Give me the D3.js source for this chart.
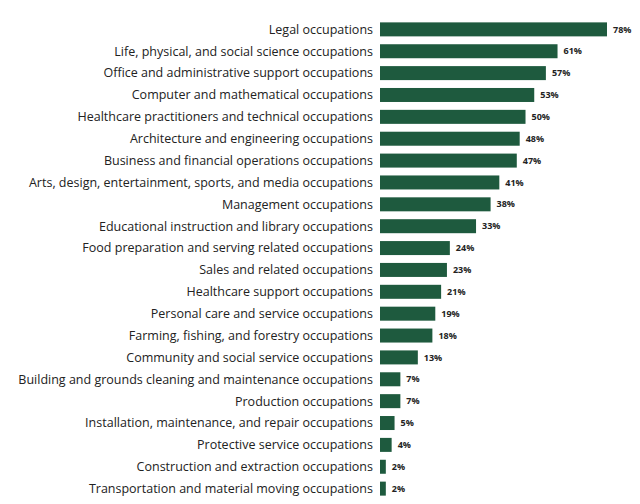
<!DOCTYPE html>
<html lang="en">
<head>
  <meta charset="UTF-8">
  <style>
    body { margin: 0; background: #fff; }
  </style>
</head>
<body>
  <div id="container"></div>
  <script src="https://cdn.jsdelivr.net/npm/d3@7"></script>
  <script>
    const categories = [
      'Legal occupations',
      'Life, physical, and social science occupations',
      'Office and administrative support occupations',
      'Computer and mathematical occupations',
      'Healthcare practitioners and technical occupations',
      'Architecture and engineering occupations',
      'Business and financial operations occupations',
      'Arts, design, entertainment, sports, and media occupations',
      'Management occupations',
      'Educational instruction and library occupations',
      'Food preparation and serving related occupations',
      'Sales and related occupations',
      'Healthcare support occupations',
      'Personal care and service occupations',
      'Farming, fishing, and forestry occupations',
      'Community and social service occupations',
      'Building and grounds cleaning and maintenance occupations',
      'Production occupations',
      'Installation, maintenance, and repair occupations',
      'Protective service occupations',
      'Construction and extraction occupations',
      'Transportation and material moving occupations'
    ];
    const values = [78, 61, 57, 53, 50, 48, 47, 41, 38, 33, 24, 23, 21, 19, 18, 13, 7, 7, 5, 4, 2, 2];

    const width = 640, height = 504;
    const left = 380;

    const svg = d3.select('#container').append('svg')
      .attr('width', width).attr('height', height);

    const x = d3.scaleLinear().domain([0, 78]).range([left, 607]);
    const y = d3.scaleBand().domain(categories).range([18, 500]).paddingInner(0.36).paddingOuter(0.2);

    const rows = svg.selectAll('g.row').data(categories).enter().append('g');

    rows.append('rect')
      .attr('x', left)
      .attr('y', d => y(d))
      .attr('width', (d, i) => x(values[i]) - left)
      .attr('height', y.bandwidth())
      .attr('fill', '#1e5a3e');

    rows.append('text')
      .attr('x', left - 7)
      .attr('y', d => y(d) + y.bandwidth() / 2)
      .attr('dy', '0.35em')
      .attr('text-anchor', 'end')
      .attr('font-family', 'Open Sans, sans-serif')
      .attr('font-size', 12.5)
      .attr('fill', '#222')
      .text(d => d);

    rows.append('text')
      .attr('x', (d, i) => x(values[i]) + 6)
      .attr('y', d => y(d) + y.bandwidth() / 2)
      .attr('dy', '0.35em')
      .attr('font-family', 'Open Sans, sans-serif')
      .attr('font-size', 9)
      .attr('font-weight', 'bold')
      .attr('fill', '#222')
      .text((d, i) => values[i] + '%');
  </script>
</body>
</html>
